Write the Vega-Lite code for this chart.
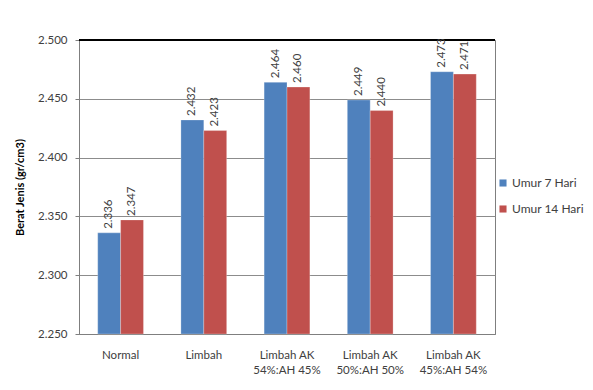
{
  "$schema": "https://vega.github.io/schema/vega-lite/v6.json",
  "width": 416,
  "height": 294,
  "autosize": {"type": "none"},
  "padding": {"left": 79, "top": 40, "right": 98, "bottom": 56},
  "background": "white",
  "config": {
    "font": "Lato",
    "view": {"stroke": "#7f7f7f", "strokeWidth": 1}
  },
  "data": {
    "values": [
      {"kategori": "Normal", "umur": "Umur 7 Hari", "berat": 2.336},
      {"kategori": "Normal", "umur": "Umur 14 Hari", "berat": 2.347},
      {"kategori": "Limbah", "umur": "Umur 7 Hari", "berat": 2.432},
      {"kategori": "Limbah", "umur": "Umur 14 Hari", "berat": 2.423},
      {"kategori": "Limbah AK|54%:AH 45%", "umur": "Umur 7 Hari", "berat": 2.464},
      {"kategori": "Limbah AK|54%:AH 45%", "umur": "Umur 14 Hari", "berat": 2.460},
      {"kategori": "Limbah AK|50%:AH 50%", "umur": "Umur 7 Hari", "berat": 2.449},
      {"kategori": "Limbah AK|50%:AH 50%", "umur": "Umur 14 Hari", "berat": 2.440},
      {"kategori": "Limbah AK|45%:AH 54%", "umur": "Umur 7 Hari", "berat": 2.473},
      {"kategori": "Limbah AK|45%:AH 54%", "umur": "Umur 14 Hari", "berat": 2.471}
    ]
  },
  "encoding": {
    "x": {
      "field": "kategori",
      "type": "nominal",
      "sort": null,
      "scale": {"paddingInner": 0.45, "paddingOuter": 0.225},
      "axis": {
        "title": null,
        "labelAngle": 0,
        "labelExpr": "split(datum.value, '|')",
        "labelFontSize": 11.5,
        "labelColor": "#404040",
        "labelPadding": 15,
        "labelBaseline": "top",
        "labelLineHeight": 15,
        "ticks": false,
        "domainColor": "#7f7f7f",
        "grid": false
      }
    },
    "xOffset": {"field": "umur", "type": "nominal", "sort": ["Umur 7 Hari", "Umur 14 Hari"]},
    "y": {
      "field": "berat",
      "type": "quantitative",
      "scale": {"domain": [2.25, 2.5], "zero": false, "nice": false},
      "axis": {
        "title": "Berat Jenis (gr/cm3)",
        "titleFontSize": 11,
        "titleFontWeight": "bold",
        "titleColor": "#000",
        "titlePadding": 12,
        "format": ".3f",
        "values": [2.25, 2.3, 2.35, 2.4, 2.45, 2.5],
        "labelFontSize": 11.5,
        "labelColor": "#404040",
        "labelPadding": 8,
        "tickSize": 4,
        "tickColor": "#7f7f7f",
        "domainColor": "#7f7f7f",
        "gridColor": "#8c8c8c",
        "gridOpacity": 1
      }
    }
  },
  "layer": [
    {
      "mark": {"type": "bar", "stroke": "white", "strokeOpacity": 0.5, "strokeWidth": 0.5},
      "encoding": {
        "y2": {"datum": 2.25},
        "color": {
          "field": "umur",
          "type": "nominal",
          "sort": ["Umur 7 Hari", "Umur 14 Hari"],
          "scale": {"domain": ["Umur 7 Hari", "Umur 14 Hari"], "range": ["#4F81BD", "#C0504D"]},
          "legend": {
            "title": null,
            "orient": "none",
            "legendX": 418,
            "legendY": 137,
            "symbolType": "square",
            "symbolSize": 50,
            "symbolStrokeWidth": 0,
            "labelFontSize": 12,
            "labelColor": "#404040",
            "rowPadding": 14,
            "labelOffset": 3
          }
        }
      }
    },
    {
      "mark": {"type": "rule", "color": "#000", "strokeWidth": 1},
      "encoding": {"y": {"datum": 2.5}, "x": null, "xOffset": null}
    },
    {
      "mark": {"type": "text", "angle": 270, "align": "left", "baseline": "middle", "dx": 4, "fontSize": 11.5, "color": "#404040"},
      "encoding": {
        "text": {"field": "berat", "type": "quantitative", "format": ".3f"}
      }
    }
  ]
}
